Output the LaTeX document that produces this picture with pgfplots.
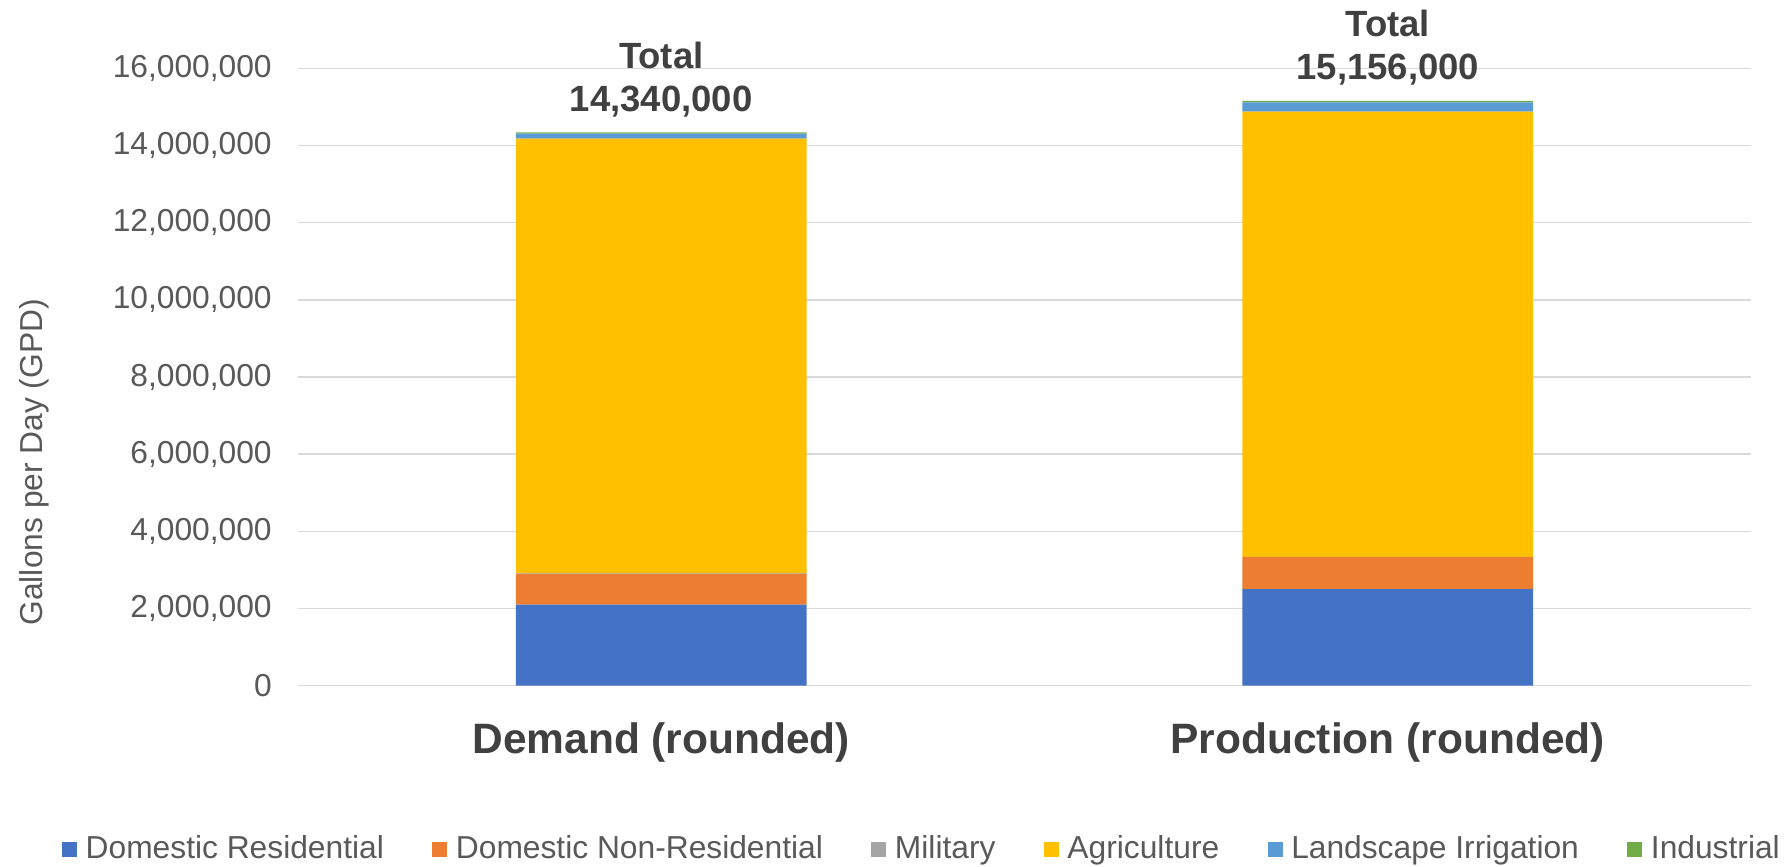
\documentclass[border=0pt]{standalone}
\usepackage{fontspec}
\setmainfont{Liberation Sans}
\usepackage{pgfplots}
\pgfplotsset{compat=1.18}
\definecolor{cRes}{HTML}{4472C4}
\definecolor{cNon}{HTML}{ED7D31}
\definecolor{cMil}{HTML}{A5A5A5}
\definecolor{cAgr}{HTML}{FFC000}
\definecolor{cLan}{HTML}{5B9BD5}
\definecolor{cInd}{HTML}{70AD47}
\definecolor{tickgrey}{HTML}{595959}
\definecolor{labgrey}{HTML}{404040}
\definecolor{gridgrey}{HTML}{D9D9D9}
\begin{document}
\begin{tikzpicture}
\begin{axis}[
  at={(119.2pt,72.12pt)}, anchor=south west,
  scale only axis, width=581.2pt, height=246.96pt,
  ybar stacked, bar width=116.24pt,
  xmin=-0.5, xmax=1.5, ymin=0, ymax=16000000,
  xtick={0,1}, xticklabels={Demand (rounded), Production (rounded)},
  ytick={0,2000000,4000000,6000000,8000000,10000000,12000000,14000000,16000000},
  scaled y ticks=false,
  /pgf/number format/fixed,
  /pgf/number format/precision=0,
  /pgf/number format/1000 sep={,},
  /pgf/number format/assume math mode=true,
  axis line style={draw=none},
  major tick length=0pt,
  ymajorgrids, grid style={gridgrey, line width=0.6pt},
  clip=false,
  yticklabel style={font=\fontsize{12.7pt}{15pt}\selectfont, text=tickgrey, xshift=-7pt},
  xticklabel style={font=\bfseries\fontsize{17pt}{20pt}\selectfont, text=labgrey, anchor=base, yshift=-27pt},
  ylabel={Gallons per Day (GPD)},
  ylabel style={font=\fontsize{12.7pt}{15pt}\selectfont, text=tickgrey, at={(axis description cs:-0.1817,0.362)}, anchor=center},
  legend columns=6,
  legend style={at={(axis description cs:0.4305,-0.2645)}, anchor=center, draw=none, fill=none,
    font=\fontsize{12.7pt}{15pt}\selectfont, text=tickgrey,
    /tikz/every even column/.append style={column sep=17.4pt},
    nodes={inner xsep=2pt}},
  legend image code/.code={\fill[#1] (0pt,-3pt) rectangle (6pt,3pt); \path (7.4pt,0pt);},
  every axis plot/.append style={draw=none},
]
\addplot[fill=cRes] coordinates {(0,2100000) (1,2500000)};
\addplot[fill=cNon] coordinates {(0,800000) (1,830000)};
\addplot[fill=cMil] coordinates {(0,10000) (1,10000)};
\addplot[fill=cAgr] coordinates {(0,11270000) (1,11540000)};
\addplot[fill=cLan] coordinates {(0,130000) (1,240000)};
\addplot[fill=cInd] coordinates {(0,30000) (1,36000)};
\legend{Domestic Residential, Domestic Non-Residential, Military, Agriculture, Landscape Irrigation, Industrial}
\node[anchor=base, font=\bfseries\fontsize{14.6pt}{17pt}\selectfont, text=labgrey, yshift=8.5pt] at (axis cs:0,14340000) {14,340,000};
\node[anchor=base, font=\bfseries\fontsize{14.6pt}{17pt}\selectfont, text=labgrey, yshift=25.7pt] at (axis cs:0,14340000) {Total};
\node[anchor=base, font=\bfseries\fontsize{14.6pt}{17pt}\selectfont, text=labgrey, yshift=8.5pt] at (axis cs:1,15156000) {15,156,000};
\node[anchor=base, font=\bfseries\fontsize{14.6pt}{17pt}\selectfont, text=labgrey, yshift=25.7pt] at (axis cs:1,15156000) {Total};
\end{axis}
\pgfresetboundingbox
\path[use as bounding box] (0,0) rectangle (714.4pt,346.4pt);
\end{tikzpicture}
\end{document}
